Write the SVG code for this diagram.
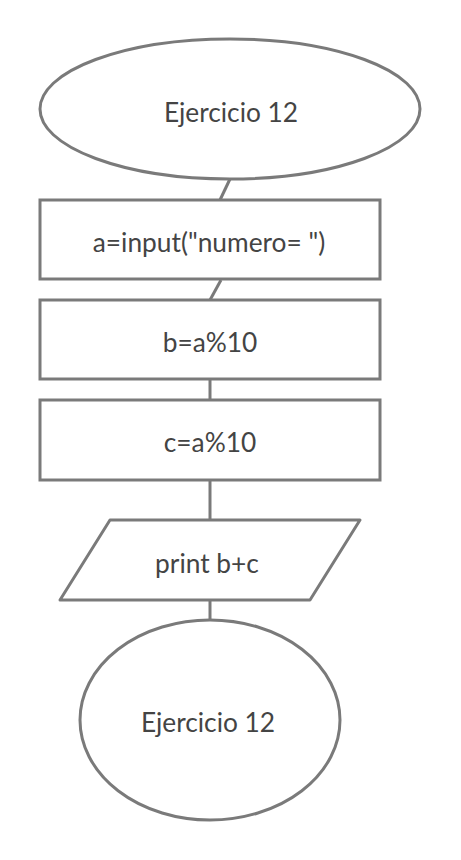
<svg xmlns="http://www.w3.org/2000/svg" width="461" height="860" viewBox="0 0 461 860">
<style>
.s{fill:#fff;stroke:#7a7a7a;stroke-width:3}
.c{fill:none;stroke:#7a7a7a;stroke-width:3}
.t{font-family:Lato,"Liberation Sans",sans-serif;font-size:26.3px;fill:#444;text-anchor:middle}
</style>
<rect width="461" height="860" fill="#fff"/>
<g id="connectors">
<line class="c" x1="230" y1="179" x2="220" y2="200"/>
<line class="c" x1="221" y1="280" x2="210" y2="300"/>
<line class="c" x1="210" y1="380" x2="210" y2="400"/>
<line class="c" x1="210" y1="480" x2="210" y2="520"/>
<line class="c" x1="210" y1="600" x2="210" y2="620"/>
</g>
<g id="start">
<ellipse class="s" cx="230" cy="109" rx="190" ry="70"/>
<text class="t" x="231" y="122">Ejercicio 12</text>
</g>
<g id="input">
<rect class="s" x="40" y="200" width="340" height="79"/>
<text class="t" x="209" y="252">a=input("numero= ")</text>
</g>
<g id="b">
<rect class="s" x="40" y="300" width="340" height="79"/>
<text class="t" x="210" y="352">b=a%10</text>
</g>
<g id="c">
<rect class="s" x="40" y="400" width="340" height="80"/>
<text class="t" x="210" y="452">c=a%10</text>
</g>
<g id="print">
<polygon class="s" points="110,520 360,520 310,600 60,600" stroke-linejoin="round"/>
<text class="t" x="207" y="573">print b+c</text>
</g>
<g id="end">
<ellipse class="s" cx="210" cy="720" rx="130" ry="100"/>
<text class="t" x="208" y="732">Ejercicio 12</text>
</g>
</svg>
